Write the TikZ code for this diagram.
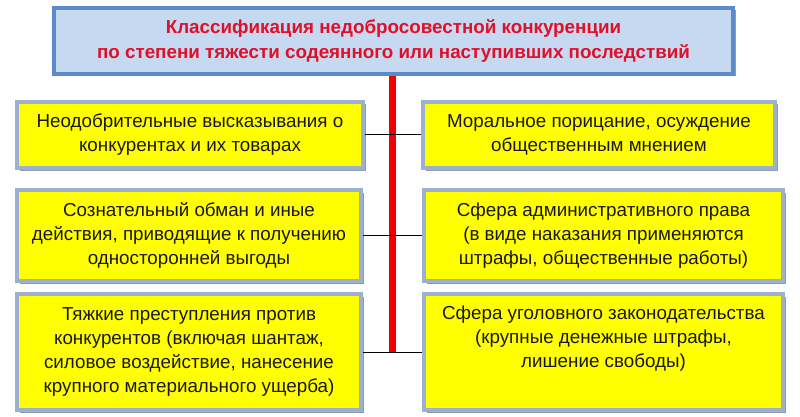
\documentclass[tikz,border=0pt]{standalone}
\usepackage{fontspec}
\setmainfont{Liberation Sans}
\usetikzlibrary{shadows}
\definecolor{ybfill}{HTML}{FFFF00}
\definecolor{ybdraw}{HTML}{9BB1CE}
\definecolor{tbfill}{HTML}{C6D9F1}
\definecolor{tbdraw}{HTML}{5B8BC9}
\definecolor{shd}{HTML}{8E9BAD}
\definecolor{titlered}{HTML}{E0102A}
\definecolor{linered}{HTML}{F20000}
\tikzset{
  ybox/.style={draw=ybdraw, line width=4pt, fill=ybfill, rectangle, align=center,
    font=\fontsize{18.8}{24}\selectfont, text=black!90, inner sep=0pt,
    drop shadow={shadow xshift=2.5pt, shadow yshift=-2.5pt, fill=shd, opacity=1}},
  tbox/.style={draw=tbdraw, line width=4pt, fill=tbfill, rectangle, align=center,
    font=\fontsize{18.8}{25}\selectfont\bfseries, text=titlered, inner sep=0pt,
    drop shadow={shadow xshift=2.5pt, shadow yshift=-2.5pt, fill=shd, opacity=1}},
  redline/.style={draw=linered, line width=7pt},
  conn/.style={draw=black, line width=1pt}
}
\begin{document}
\begin{tikzpicture}[x=1pt,y=1pt]
\useasboundingbox (0,0) rectangle (800,-417);
\node[tbox, minimum width=679pt, minimum height=66pt] (top) at (393.5,-41)
  {Классификация недобросовестной конкуренции\\по степени тяжести содеянного или наступивших последствий};
\node[ybox, minimum width=346pt, minimum height=66pt] (l1) at (190,-135)
  {Неодобрительные высказывания о\\конкурентах и их товарах};
\node[ybox, minimum width=352pt, minimum height=66pt] (r1) at (599,-135)
  {Моральное порицание, осуждение\\общественным мнением};
\node[ybox, minimum width=344pt, minimum height=91pt] (l2) at (189,-235.5)
  {Сознательный обман и иные\\действия, приводящие к получению\\односторонней выгоды};
\node[ybox, minimum width=359pt, minimum height=91pt] (r2) at (603.5,-235.5)
  {Сфера административного права\\(в виде наказания применяются\\штрафы, общественные работы)};
\node[ybox, minimum width=344pt, minimum height=116pt] (l3) at (189,-352)
  {Тяжкие преступления против\\конкурентов (включая шантаж,\\силовое воздействие, нанесение\\крупного материального ущерба)};
\node[ybox, minimum width=359pt, minimum height=116pt] (r3) at (603.5,-352)
  {Сфера уголовного законодательства\\(крупные денежные штрафы,\\лишение свободы)\\\strut};
\coordinate (rb) at (392,-352);
\draw[redline] (top.south -| rb) -- (rb);
\draw[conn] (l1.east) -- (r1.west);
\draw[conn] (l2.east) -- (r2.west);
\draw[conn] (l3.east) -- (r3.west);
\end{tikzpicture}
\end{document}
